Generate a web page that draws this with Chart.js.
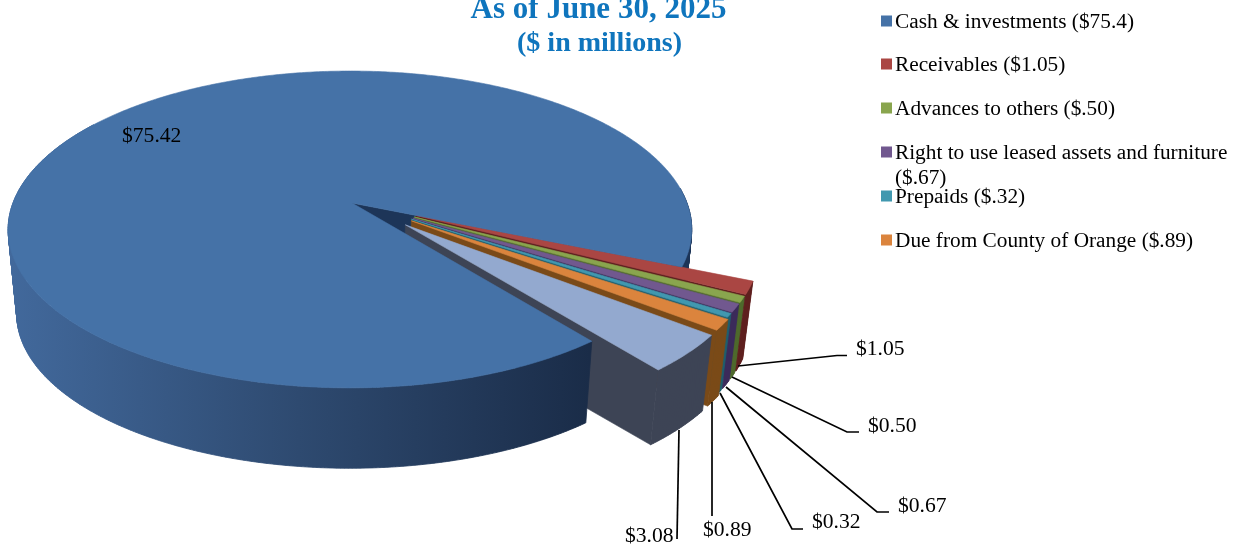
<!DOCTYPE html>
<html><head><meta charset="utf-8">
<style>html,body{margin:0;padding:0;background:#fff}canvas{display:block}</style>
<script src="https://cdn.jsdelivr.net/npm/chart.js@4"></script>
</head><body><canvas id="c" width="1242" height="548"></canvas>
<script>
const categories = ["Cash & investments","Receivables","Advances to others","Right to use leased assets and furniture","Prepaids","Due from County of Orange",""];
const values = [75.42,1.05,0.50,0.67,0.32,0.89,3.08];
const legendTexts = [["Cash & investments ($75.4)"],["Receivables ($1.05)"],["Advances to others ($.50)"],["Right to use leased assets and furniture","($.67)"],["Prepaids ($.32)"],["Due from County of Orange ($.89)"]];
const titleLines = ["As of June 30, 2025","($ in millions)"];
const topColors = ["#4572A7","#AA4643","#89A54E","#71588F","#4198AF","#DB843D","#93A9CF"];
const sideColors = ["#1d3558","#5e1f1e","#4e6a2c","#3b2b5a","#1e5e6d","#7a4a18","#3d4455"];
const explode = [0,1,1,1,1,1.03,1.05];

// layout
const EXPLODE_PX = 41.6, BASE_R = 200;
const cam = {cx:352, cy:203, R:337, Rt:154, k:0.167, j:0.006, dy:85, dyOut:79, s:0.975, outX:0.995, outY:0.9};
const SERIF = '"Liberation Serif","Times New Roman",serif';
const legendLayout = {x:881, box:11, textX:895, rows:[21,64,108,152,196,240], lineGap:25};
const calloutLayout = [
  null,
  {pts:[[738,366],[837,355.5],[847,355.5]], x:856, y:348},
  {pts:[[732,377],[847,432],[859,432]], x:868, y:425},
  {pts:[[726,387],[877,512],[889,512]], x:898, y:505},
  {pts:[[720,393],[792,529],[803,529]], x:812, y:521},
  {pts:[[712,402],[712,516]], x:703, y:529},
  {pts:[[679,430],[677,539]], x:625, y:535}
];

function P(X,Y,low,dy){
  const w = 1-cam.k*Y+cam.j*X, s = low?cam.s:1;
  return [cam.cx+cam.R*X/w*s, cam.cy+(low?dy:0)+cam.Rt*Y/w*s];
}
function poly(ctx,pts,fill){
  ctx.beginPath();
  pts.forEach((p,i)=>i?ctx.lineTo(p[0],p[1]):ctx.moveTo(p[0],p[1]));
  ctx.closePath();
  ctx.fillStyle=fill; ctx.strokeStyle=fill; ctx.lineWidth=0.6;
  ctx.fill(); ctx.stroke();
}
function area(q){
  let a=0;
  q.forEach((p,i)=>{const n=q[(i+1)%q.length]; a+=p[0]*n[1]-n[0]*p[1];});
  return a;
}
// one path of consistently wound quads, so the wall has no seams or folds
function wall(ctx,a0,a1,geo,fill){
  const n=Math.max(3,Math.ceil((a1-a0)/0.01));
  ctx.beginPath();
  for(let i=0;i<n;i++){
    const t0=a0+(a1-a0)*i/n, t1=a0+(a1-a0)*(i+1)/n;
    let q=[geo.pt(t0,false),geo.pt(t1,false),geo.pt(t1,true),geo.pt(t0,true)];
    if(area(q)<0) q=q.reverse();
    q.forEach((p,j)=>j?ctx.lineTo(p[0],p[1]):ctx.moveTo(p[0],p[1]));
    ctx.closePath();
  }
  ctx.fillStyle=fill; ctx.strokeStyle=fill; ctx.lineWidth=0.8;
  ctx.fill('nonzero'); ctx.stroke();
}
function surface(ctx,a0,a1,geo,fill){
  const n=Math.max(3,Math.ceil((a1-a0)/0.01)), pts=[geo.apex(false)];
  for(let i=0;i<=n;i++) pts.push(geo.pt(a0+(a1-a0)*i/n,false));
  poly(ctx,pts,fill);
}
function geometry(el){
  const mid=(el.startAngle+el.endAngle)/2;
  const f=(el.options.offset||0)/el.outerRadius;
  const out=f>0;
  const ox=f*Math.cos(mid), oy=f*Math.sin(mid)*(out?cam.outY:1);
  const sx=out?cam.outX:1, dy=out?cam.dyOut:cam.dy;
  return {
    apex:low=>P(ox,oy,low,dy),
    pt:(t,low)=>P(ox+sx*Math.cos(t),oy+Math.sin(t),low,dy)
  };
}

const pie3d = {
  id:'pie3d',
  beforeDatasetsDraw(chart){
    const ctx=chart.ctx, arcs=chart.getDatasetMeta(0).data;
    ctx.save();
    const big=arcs[0], bg=geometry(big);
    const a0=big.startAngle, a1=big.endAngle;
    const g=ctx.createLinearGradient(8,0,590,0);
    g.addColorStop(0,'#42699c'); g.addColorStop(0.5,'#2e4a70'); g.addColorStop(1,'#1a2c48');
    // the large slice's back: the cut face in the gap and the wall behind the exploded slices
    poly(ctx,[bg.apex(false),bg.pt(a1,false),bg.pt(a1,true),bg.apex(true)],sideColors[0]);
    wall(ctx,a1-0.5,a1,bg,sideColors[0]);
    // exploded slices, far to near
    arcs.slice(1).forEach((el,k)=>{
      const i=k+1, geo=geometry(el);
      poly(ctx,[geo.apex(false),geo.pt(el.endAngle,false),geo.pt(el.endAngle,true),geo.apex(true)],sideColors[i]);
      wall(ctx,el.startAngle,el.endAngle,geo,sideColors[i]);
      surface(ctx,el.startAngle,el.endAngle,geo,topColors[i]);
    });
    // the large slice's front wall and its top come last
    wall(ctx,a0,a0+Math.PI*0.9,bg,g);
    surface(ctx,a0,a1,bg,topColors[0]);
    ctx.restore();
    return false;
  },
  afterDraw(chart){
    const ctx=chart.ctx;
    ctx.save();
    ctx.textBaseline='alphabetic';
    // title
    ctx.fillStyle='#0f75bd'; ctx.textAlign='center';
    ctx.font='bold 31px '+SERIF;
    ctx.fillText(titleLines[0],598.5,18);
    ctx.font='bold 28px '+SERIF;
    ctx.fillText(titleLines[1],599.5,51);
    ctx.textAlign='left';
    // legend
    ctx.font='21.3px '+SERIF;
    legendTexts.forEach((lines,i)=>{
      const y=legendLayout.rows[i];
      ctx.fillStyle=topColors[i];
      ctx.fillRect(legendLayout.x,y-5.5,legendLayout.box,legendLayout.box);
      ctx.fillStyle='#000';
      lines.forEach((t,j)=>ctx.fillText(t,legendLayout.textX,y+7+j*legendLayout.lineGap));
    });
    // data labels
    ctx.font='21.6px '+SERIF;
    ctx.fillStyle='#000';
    ctx.fillText('$'+values[0].toFixed(2),122,142);
    ctx.strokeStyle='#000'; ctx.lineWidth=1.7;
    calloutLayout.forEach((c,i)=>{
      if(!c) return;
      ctx.beginPath();
      c.pts.forEach((p,j)=>j?ctx.lineTo(p[0],p[1]):ctx.moveTo(p[0],p[1]));
      ctx.stroke();
      ctx.fillText('$'+values[i].toFixed(2),c.x,c.y+7);
    });
    ctx.restore();
  }
};

new Chart(document.getElementById('c'),{
  type:'pie',
  data:{labels:categories,datasets:[{data:values,backgroundColor:topColors,borderWidth:0,
    offset:explode.map(e=>e*EXPLODE_PX)}]},
  options:{responsive:false,animation:false,rotation:141.6,radius:BASE_R,
    plugins:{legend:{display:false},tooltip:{enabled:false},title:{display:false}}},
  plugins:[pie3d]
});
</script></body></html>
